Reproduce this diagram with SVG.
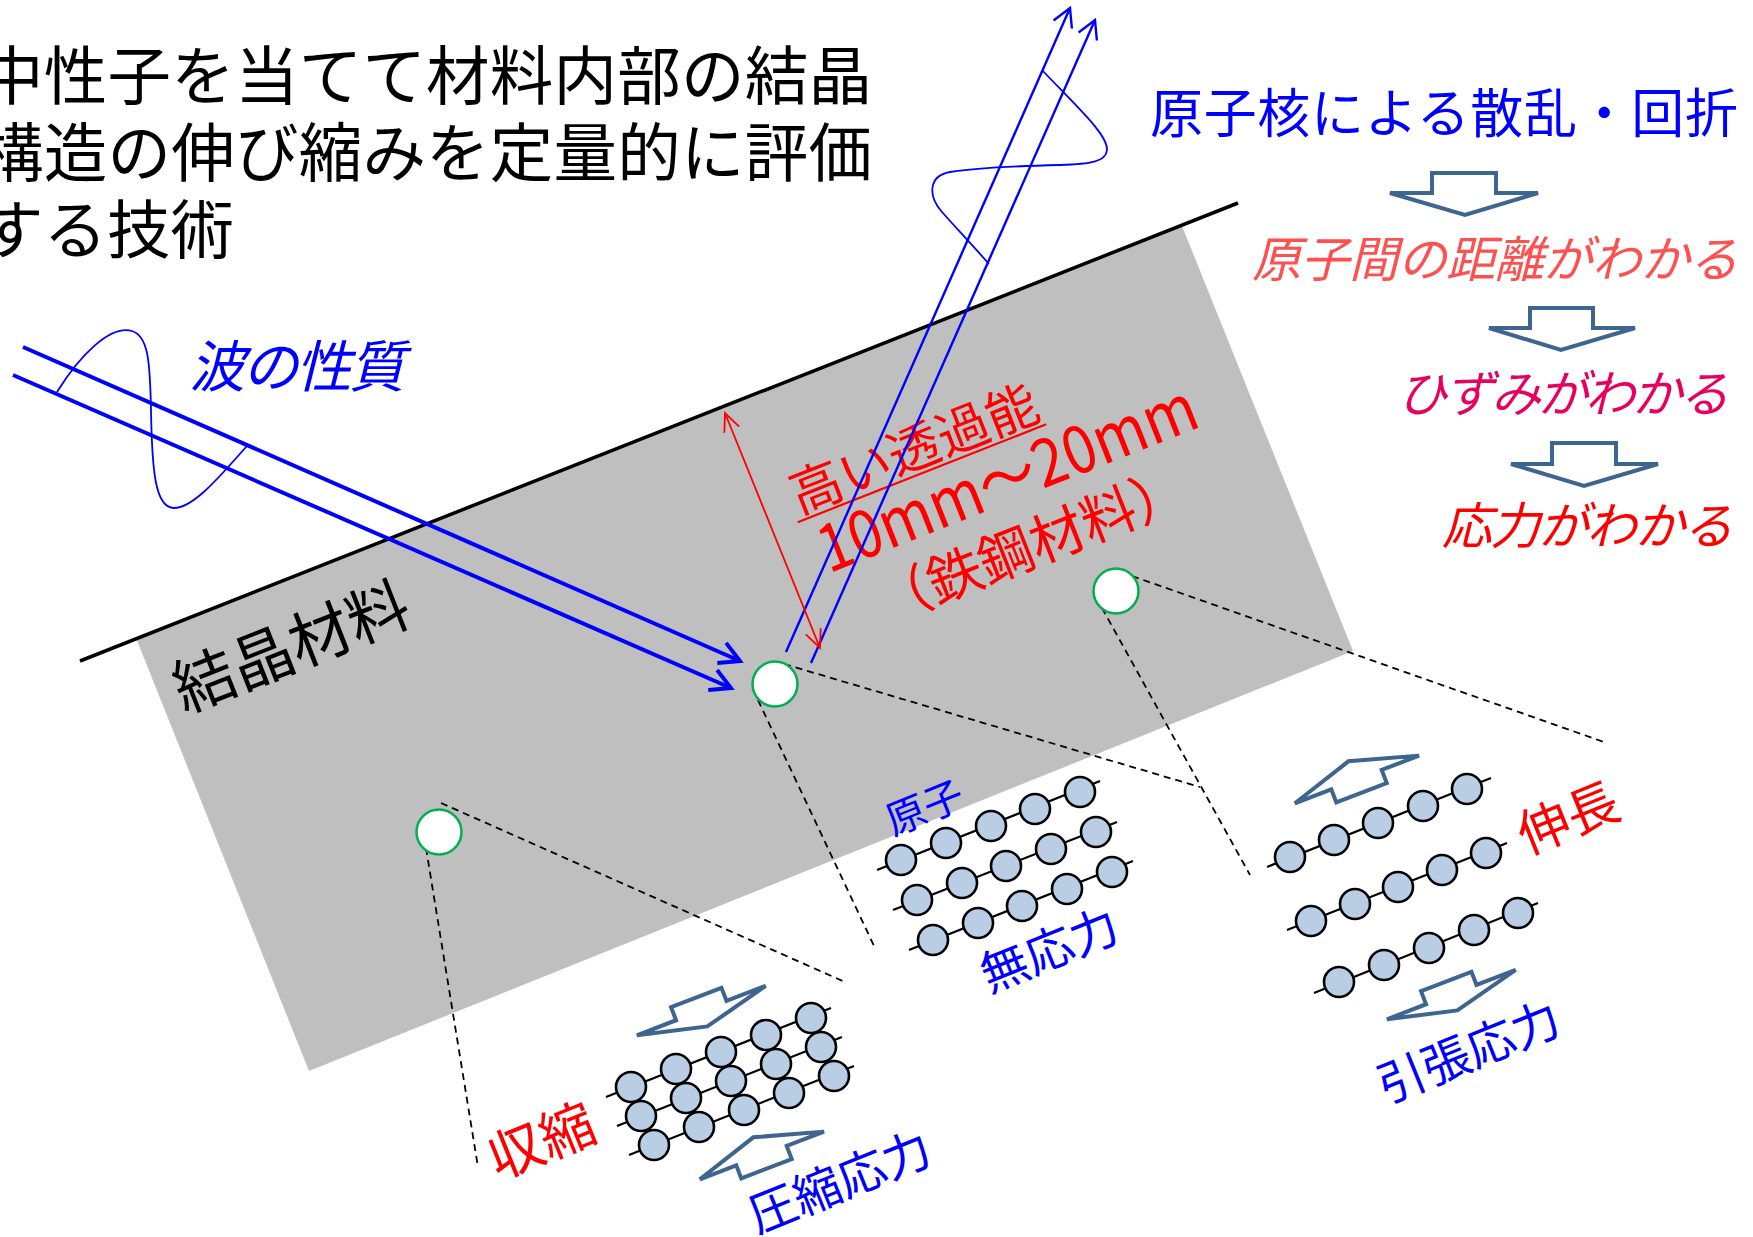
<svg xmlns="http://www.w3.org/2000/svg" width="1753" height="1237" viewBox="0 0 1753 1237">
  <defs>
    <style>
      text { font-family: "Noto Sans CJK JP", "Noto Sans", sans-serif; }
      .black { fill: #000000; }
      .blue { fill: #0000ff; }
      .red { fill: #ff0000; }
      .salmon { fill: #ff5050; }
      .pink { fill: #e8005e; }
      .ital { font-style: italic; }
      .beam { stroke: #0000ff; stroke-width: 4; fill: none; }
      .ray { stroke: #0000ff; stroke-width: 2.4; fill: none; }
      .wave { stroke: #0000ff; stroke-width: 1.8; fill: none; }
      .depth { stroke: #ff0000; stroke-width: 1.8; fill: none; }
      .dash { stroke: #000000; stroke-width: 1.8; stroke-dasharray: 7 5; fill: none; }
      .spot { fill: #ffffff; stroke: #00b050; stroke-width: 2.5; }
      .bond { stroke: #000000; stroke-width: 2.2; }
      .atom { fill: #b9cde5; stroke: #000000; stroke-width: 2.6; }
      .blk { fill: #ffffff; stroke: #3e6490; stroke-width: 4; stroke-linejoin: miter; }
    </style>
    <marker id="headThick" viewBox="-30 -20 40 40" markerWidth="40" markerHeight="40" refX="0" refY="0" orient="auto" markerUnits="userSpaceOnUse" overflow="visible">
      <path d="M-20,-11 L0,0 L-20,11" stroke="#0000ff" stroke-width="4" fill="none"/>
    </marker>
    <marker id="headThin" viewBox="-30 -20 40 40" markerWidth="40" markerHeight="40" refX="0" refY="0" orient="auto" markerUnits="userSpaceOnUse" overflow="visible">
      <path d="M-18,-10 L0,0 L-18,10" stroke="#0000ff" stroke-width="2.4" fill="none"/>
    </marker>
    <marker id="headRed" viewBox="-30 -20 40 40" markerWidth="40" markerHeight="40" refX="0" refY="0" orient="auto-start-reverse" markerUnits="userSpaceOnUse" overflow="visible">
      <path d="M-18,-8 L0,0 L-18,8" stroke="#ff0000" stroke-width="1.8" fill="none"/>
    </marker>
    <!-- flat block arrows used around the atom rows -->
    <path id="blkDown" d="M2,0 L44,0 L44,-14 L98,-14 L98,0 L140,0 L71,17 Z"/>
    <path id="blkUp" d="M2,0 L41,0 L41,14 L95,14 L95,0 L135,0 L67,-20 Z"/>
  </defs>

  <rect width="1753" height="1237" fill="#ffffff"/>

  <!-- material slab and surface -->
  <g id="slab">
    <polygon points="136,638 1182,226 1353,651 309,1071" fill="#bfbfbf"/>
    <line x1="80" y1="661" x2="1238" y2="203" stroke="#000000" stroke-width="3.5"/>
    <text class="black" font-size="62" transform="translate(184,713) rotate(-21.5)">結晶材料</text>
  </g>

  <!-- headline -->
  <g id="title">
    <text class="black" font-size="63.5" x="-20" y="99" textLength="892">中性子を当てて材料内部の結晶</text>
    <text class="black" font-size="63.5" x="-20" y="176" textLength="892">構造の伸び縮みを定量的に評価</text>
    <text class="black" font-size="63.5" x="-20" y="253">する技術</text>
  </g>

  <!-- reasoning chain on the right -->
  <g id="chain-scatter">
    <text class="blue" font-size="53" x="1150" y="133" textLength="588">原子核による散乱・回折</text>
  </g>
  <g id="chain-arrow1">
    <polygon class="blk" points="1432,173 1496,173 1496,193 1538,193 1465,215 1390,193 1432,193"/>
  </g>
  <g id="chain-distance">
    <text class="salmon ital" font-size="49" x="1252" y="277" textLength="486">原子間の距離がわかる</text>
  </g>
  <g id="chain-arrow2">
    <polygon class="blk" points="1530,308 1593,308 1593,328 1635,328 1561,350 1489,328 1530,328"/>
  </g>
  <g id="chain-strain">
    <text class="pink ital" font-size="50" x="1397" y="412" textLength="332">ひずみがわかる</text>
  </g>
  <g id="chain-arrow3">
    <polygon class="blk" points="1552,443 1616,443 1616,464 1658,464 1584,486 1511,464 1552,464"/>
  </g>
  <g id="chain-stress">
    <text class="red ital" font-size="50" x="1442" y="544" textLength="291">応力がわかる</text>
  </g>

  <!-- wave label -->
  <g id="wave-label">
    <text class="blue ital" font-size="56" x="189" y="387" textLength="216">波の性質</text>
  </g>

  <!-- penetration depth label -->
  <g id="depth-label" transform="translate(800,517) rotate(-21.5)">
    <text class="red" font-size="52" x="0" y="-3" textLength="262">高い透過能</text>
    <line x1="-4" y1="4" x2="263" y2="4" stroke="#ff0000" stroke-width="2.2"/>
    <text class="red" font-size="66" x="6" y="63" textLength="402" lengthAdjust="spacingAndGlyphs">10mm～20mm</text>
    <text class="red" font-size="55" x="40" y="131" textLength="330">（鉄鋼材料）</text>
  </g>

  <!-- beams, waves, leader lines -->
  <g id="connectors">
    <line class="beam" x1="23" y1="347" x2="740" y2="661" marker-end="url(#headThick)"/>
    <line class="beam" x1="13" y1="375" x2="731" y2="688" marker-end="url(#headThick)"/>
    <path class="wave" d="M57,392 C80,355 110,325 132,331 C148,336 150,360 151,410 C152,470 155,508 174,508 C195,508 225,470 247,446"/>
    <line class="ray" x1="786" y1="652" x2="1070" y2="8" marker-end="url(#headThin)"/>
    <line class="ray" x1="811" y1="663" x2="1095" y2="20" marker-end="url(#headThin)"/>
    <path class="wave" d="M1042,70 C1078,108 1108,135 1107,150 C1106,162 1090,164 1060,165 C1020,166 975,168 950,172 C928,176 928,196 942,212 C958,230 975,248 989,264"/>
    <line class="depth" x1="725" y1="413" x2="820" y2="648" marker-start="url(#headRed)" marker-end="url(#headRed)"/>
    <line class="dash" x1="784" y1="664" x2="1200" y2="787"/>
    <line class="dash" x1="758" y1="700" x2="875" y2="948"/>
    <line class="dash" x1="1132" y1="576" x2="1604" y2="742"/>
    <line class="dash" x1="1102" y1="608" x2="1250" y2="875"/>
    <line class="dash" x1="441" y1="803" x2="845" y2="982"/>
    <line class="dash" x1="426" y1="848" x2="478" y2="1167"/>
  </g>

  <!-- measurement spots -->
  <g id="spot-surface"><circle class="spot" cx="775" cy="684" r="22.5"/></g>
  <g id="spot-right"><circle class="spot" cx="1116" cy="591" r="22.5"/></g>
  <g id="spot-left"><circle class="spot" cx="439" cy="832" r="22.5"/></g>

  <!-- unstressed lattice -->
  <g id="lattice-free">
    <line class="bond" x1="877" y1="870" x2="1100" y2="781"/>
    <circle class="atom" cx="901" cy="860" r="15"/><circle class="atom" cx="946" cy="843" r="15"/><circle class="atom" cx="991" cy="826" r="15"/><circle class="atom" cx="1035" cy="809" r="15"/><circle class="atom" cx="1080" cy="792" r="15"/>
    <line class="bond" x1="893" y1="910" x2="1117" y2="822"/>
    <circle class="atom" cx="917" cy="900" r="15"/><circle class="atom" cx="962" cy="883" r="15"/><circle class="atom" cx="1006" cy="866" r="15"/><circle class="atom" cx="1051" cy="849" r="15"/><circle class="atom" cx="1096" cy="832" r="15"/>
    <line class="bond" x1="909" y1="950" x2="1133" y2="861"/>
    <circle class="atom" cx="933" cy="940" r="15"/><circle class="atom" cx="978" cy="923" r="15"/><circle class="atom" cx="1022" cy="906" r="15"/><circle class="atom" cx="1067" cy="889" r="15"/><circle class="atom" cx="1112" cy="872" r="15"/>
    <text class="blue" font-size="40" transform="translate(893,836) rotate(-22)">原子</text>
    <text class="blue" font-size="48" transform="translate(989,993) rotate(-22)">無応力</text>
  </g>

  <!-- lattice under tension -->
  <g id="lattice-tension">
    <use href="#blkUp" class="blk" transform="translate(1293,804) rotate(-21)"/>
    <line class="bond" x1="1267" y1="867" x2="1491" y2="778"/>
    <circle class="atom" cx="1290" cy="857" r="15"/><circle class="atom" cx="1334" cy="840" r="15"/><circle class="atom" cx="1378" cy="823" r="15"/><circle class="atom" cx="1423" cy="806" r="15"/><circle class="atom" cx="1467" cy="789" r="15"/>
    <line class="bond" x1="1287" y1="930" x2="1507" y2="843"/>
    <circle class="atom" cx="1311" cy="921" r="15"/><circle class="atom" cx="1355" cy="904" r="15"/><circle class="atom" cx="1398" cy="887" r="15"/><circle class="atom" cx="1442" cy="870" r="15"/><circle class="atom" cx="1486" cy="853" r="15"/>
    <line class="bond" x1="1314" y1="993" x2="1538" y2="903"/>
    <circle class="atom" cx="1339" cy="982" r="15"/><circle class="atom" cx="1384" cy="965" r="15"/><circle class="atom" cx="1429" cy="948" r="15"/><circle class="atom" cx="1474" cy="930" r="15"/><circle class="atom" cx="1518" cy="913" r="15"/>
    <use href="#blkDown" class="blk" transform="translate(1385,1020) rotate(-21)"/>
    <text class="red" font-size="52" transform="translate(1527,855) rotate(-22)">伸長</text>
    <text class="blue" font-size="48" transform="translate(1386,1104) rotate(-22)">引張応力</text>
  </g>

  <!-- lattice under compression -->
  <g id="lattice-compression">
    <use href="#blkDown" class="blk" transform="translate(635,1036) rotate(-21)"/>
    <line class="bond" x1="606" y1="1097" x2="831" y2="1008"/>
    <circle class="atom" cx="631" cy="1087" r="15"/><circle class="atom" cx="676" cy="1069" r="15"/><circle class="atom" cx="721" cy="1052" r="15"/><circle class="atom" cx="766" cy="1035" r="15"/><circle class="atom" cx="811" cy="1018" r="15"/>
    <line class="bond" x1="617" y1="1126" x2="842" y2="1037"/>
    <circle class="atom" cx="641" cy="1116" r="15"/><circle class="atom" cx="686" cy="1098" r="15"/><circle class="atom" cx="731" cy="1081" r="15"/><circle class="atom" cx="776" cy="1064" r="15"/><circle class="atom" cx="821" cy="1047" r="15"/>
    <line class="bond" x1="629" y1="1155" x2="854" y2="1066"/>
    <circle class="atom" cx="654" cy="1145" r="15"/><circle class="atom" cx="699" cy="1127" r="15"/><circle class="atom" cx="744" cy="1110" r="15"/><circle class="atom" cx="789" cy="1093" r="15"/><circle class="atom" cx="834" cy="1076" r="15"/>
    <use href="#blkUp" class="blk" transform="translate(698,1180) rotate(-21)"/>
    <text class="red" font-size="55" transform="translate(498,1180) rotate(-22)">収縮</text>
    <text class="blue" font-size="48" transform="translate(757,1234) rotate(-22)">圧縮応力</text>
  </g>
</svg>
